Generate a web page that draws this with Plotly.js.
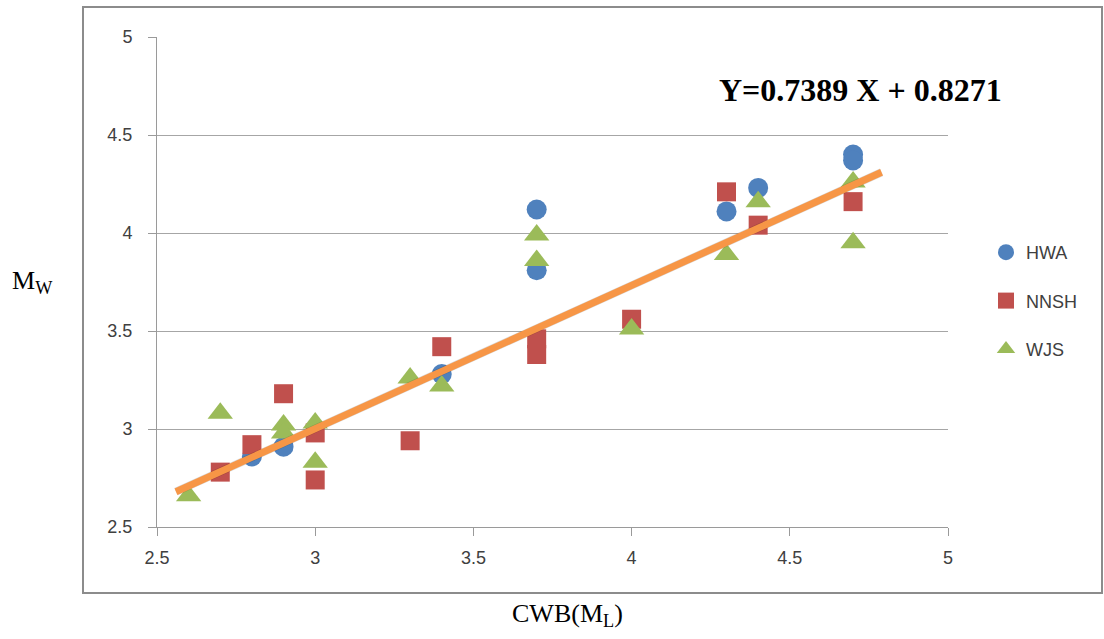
<!DOCTYPE html>
<html>
<head>
<meta charset="utf-8">
<script src="https://cdn.plot.ly/plotly-3.0.1.min.js"></script>
<style>html,body{margin:0;padding:0;background:#fff;}#chart{width:1104px;height:639px;}</style>
</head>
<body>
<div id="chart"></div>
<script>
// HWA (blue circles)
const hwaX = [2.8, 2.9, 3.4, 3.7, 3.7, 4.3, 4.4, 4.7, 4.7];
const hwaY = [2.86, 2.91, 3.28, 4.12, 3.81, 4.11, 4.23, 4.40, 4.37];
// NNSH (red squares)
const nnshX = [2.7, 2.8, 2.9, 3.0, 3.0, 3.3, 3.4, 3.7, 3.7, 4.0, 4.3, 4.4, 4.7];
const nnshY = [2.78, 2.92, 3.18, 2.98, 2.74, 2.94, 3.42, 3.46, 3.38, 3.56, 4.21, 4.04, 4.16];
// WJS (green triangles)
const wjsX = [2.6, 2.7, 2.9, 2.9, 3.0, 3.0, 3.3, 3.4, 3.7, 3.7, 4.0, 4.3, 4.4, 4.7, 4.7];
const wjsY = [2.66, 3.08, 3.02, 2.98, 3.03, 2.83, 3.26, 3.22, 3.99, 3.86, 3.51, 3.89, 4.16, 4.26, 3.95];
// Fitted line endpoints as drawn
const trendX = [2.56, 4.79];
const trendY = [2.68, 4.31];
const tickVals = [2.5, 3, 3.5, 4, 4.5, 5];
const tickText = ['2.5', '3', '3.5', '4', '4.5', '5'];

const traces = [
  {x: hwaX, y: hwaY, name: 'HWA', mode: 'markers', type: 'scatter', legendgroup: 'a',
   marker: {symbol: 'circle', size: 20, color: '#4F81BD', line: {width: 0}}},
  {x: nnshX, y: nnshY, name: 'NNSH', mode: 'markers', type: 'scatter', legendgroup: 'b',
   marker: {symbol: 'square', size: 19, color: '#C0504D', line: {width: 0}}},
  {x: wjsX, y: wjsY, name: 'WJS', mode: 'markers', type: 'scatter', legendgroup: 'c',
   marker: {symbol: 'triangle-up', size: 22, color: '#9BBB59', line: {width: 0}}},
  {x: trendX, y: trendY, mode: 'lines', type: 'scatter', showlegend: false, hoverinfo: 'skip',
   line: {color: 'rgba(0,0,0,0.15)', width: 8}},
  {x: trendX, y: trendY, mode: 'lines', type: 'scatter', showlegend: false,
   line: {color: '#F79646', width: 7}}
];

const pw = 791, ph = 490, ml = 157, mt = 37;
const px = v => (v - ml) / pw;
const py = v => (mt + ph - v) / ph;

const layout = {
  width: 1104, height: 639,
  margin: {l: 157, r: 156, t: 37, b: 112, pad: 0},
  paper_bgcolor: '#ffffff', plot_bgcolor: '#ffffff',
  font: {family: 'Liberation Sans, Arial, sans-serif', size: 18, color: '#404040'},
  xaxis: {
    range: [2.5, 5], tickvals: tickVals, ticktext: tickText,
    showgrid: false, zeroline: false,
    showline: true, linecolor: '#9a9a9a', linewidth: 1,
    ticks: 'outside', ticklen: 8, tickcolor: '#9a9a9a', tickwidth: 1,
    ticklabelstandoff: 6,
    tickfont: {family: 'Liberation Sans, Arial, sans-serif', size: 18, color: '#404040'}
  },
  yaxis: {
    range: [2.5, 5], tickvals: tickVals, ticktext: tickText,
    showgrid: true, gridcolor: '#a6a6a6', gridwidth: 1, zeroline: false,
    showline: true, linecolor: '#9a9a9a', linewidth: 1,
    ticks: 'outside', ticklen: 8, tickcolor: '#9a9a9a', tickwidth: 1,
    ticklabelstandoff: 12,
    tickfont: {family: 'Liberation Sans, Arial, sans-serif', size: 18, color: '#404040'}
  },
  legend: {
    x: px(986), y: py(234), xanchor: 'left', yanchor: 'top',
    bgcolor: 'rgba(0,0,0,0)', tracegroupgap: 22, itemwidth: 30,
    font: {family: 'Liberation Sans, Arial, sans-serif', size: 18, color: '#404040'}
  },
  showlegend: true,
  shapes: [
    {type: 'rect', xref: 'paper', yref: 'paper',
     x0: px(83), x1: px(1102), y0: py(593), y1: py(7),
     line: {color: '#8c8c8c', width: 2}, fillcolor: 'rgba(0,0,0,0)', layer: 'below'}
  ],
  annotations: [
    {xref: 'paper', yref: 'paper', x: px(860), y: py(90), xanchor: 'center', yanchor: 'middle',
     text: '<b>Y=0.7389 X + 0.8271</b>', showarrow: false,
     font: {family: 'Liberation Serif, Times New Roman, serif', size: 32, color: '#000'}},
    {xref: 'paper', yref: 'paper', x: px(10), y: py(282), xanchor: 'left', yanchor: 'middle',
     text: 'M<sub>W</sub>', showarrow: false,
     font: {family: 'Liberation Serif, Times New Roman, serif', size: 26, color: '#000'}},
    {xref: 'paper', yref: 'paper', x: px(567), y: py(615), xanchor: 'center', yanchor: 'middle',
     text: 'CWB(M<sub>L</sub>)', showarrow: false,
     font: {family: 'Liberation Serif, Times New Roman, serif', size: 26, color: '#000'}}
  ]
};

Plotly.newPlot('chart', traces, layout, {displayModeBar: false, staticPlot: true});
</script>
</body>
</html>
